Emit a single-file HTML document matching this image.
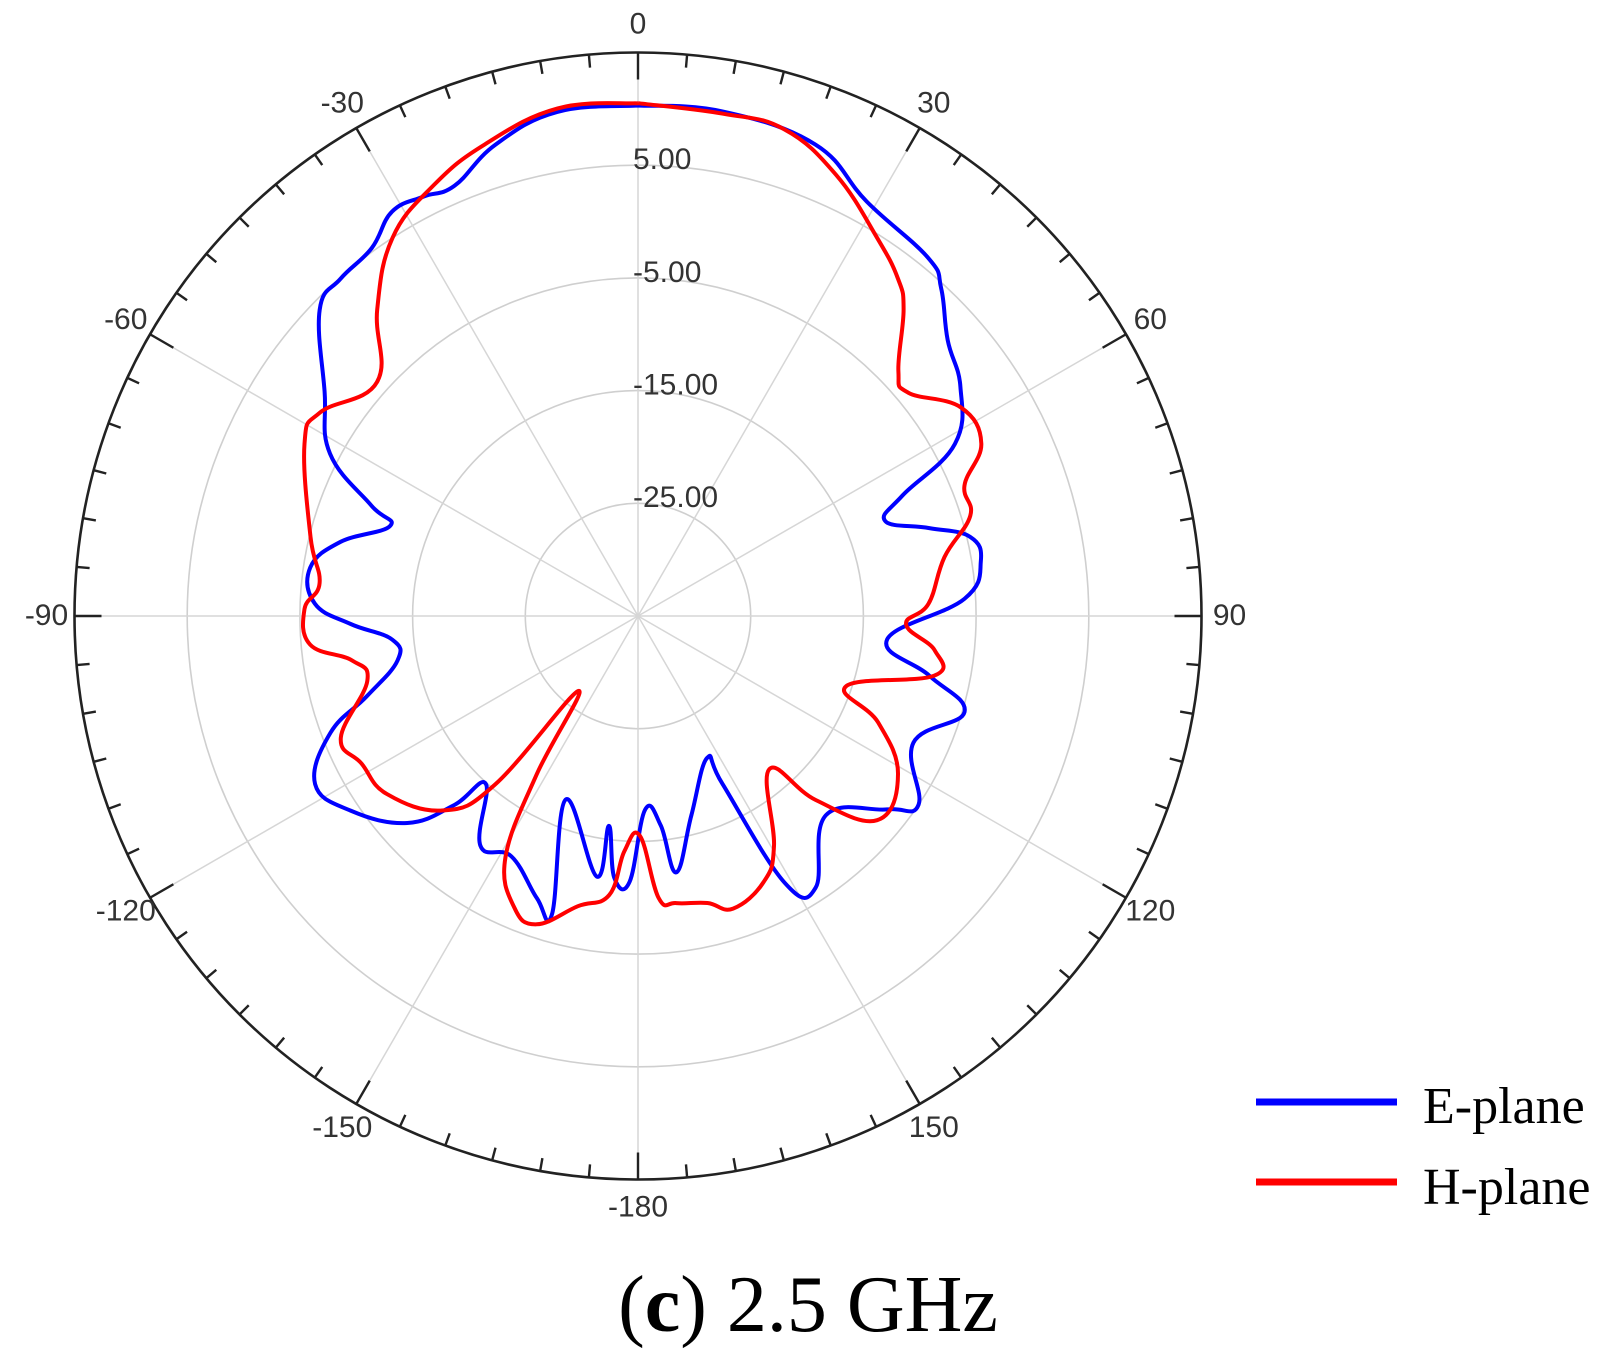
<!DOCTYPE html>
<html><head><meta charset="utf-8"><style>
html,body{margin:0;padding:0;background:#fff;}
svg{display:block;}
</style></head><body>
<svg id="chart" width="1615" height="1368" viewBox="0 0 1615 1368" xmlns="http://www.w3.org/2000/svg">
<g id="grid"></g>
<g id="series"></g>
<g id="labels"></g>
<g>
<line x1="1256" y1="1102" x2="1397" y2="1102" stroke="#0000ff" stroke-width="7"/>
<text x="1423" y="1123" font-family="Liberation Serif, serif" font-size="52" fill="#000">E-plane</text>
<line x1="1256" y1="1182" x2="1397" y2="1182" stroke="#ff0000" stroke-width="7"/>
<text x="1423" y="1204" font-family="Liberation Serif, serif" font-size="52" fill="#000">H-plane</text>
</g>
<text x="808" y="1331" text-anchor="middle" font-family="Liberation Serif, serif" font-size="80" fill="#000">(<tspan font-weight="bold">c</tspan>) 2.5 GHz</text>
</svg>
<script>
// data
const ringLevels = [-25, -15, -5, 5];
const ringLabels = ["-25.00", "-15.00", "-5.00", "5.00"];
const angleTicks = [0, 30, 60, 90, 120, 150, 180, -150, -120, -90, -60, -30];
const angleLabels = ["0", "30", "60", "90", "120", "150", "-180", "-150", "-120", "-90", "-60", "-30"];
const eAngles = [0,9.5,20.6,28.9,39,42.8,48.3,54.6,61.5,65.5,69,73.2,76.6,81,87,95.4,101.6,106.4,114.7,123.9,127.8,136.7,146.8,151.2,153.3,154,165,171.5,173.8,177.9,181.8,185.2,187.9,189,201.5,196.1,199.7,207.8,214.5,222.2,224.2,228.1,235.9,242.5,249.2,253.5,259.5,264.5,268.4,272.2,278.4,284,290,292.5,297.8,305.6,313.9,318.6,324.1,328.7,332.9,336.9,343.2,350.9,360];
const eValues = [10.3,10.4,9.7,7.0,5.9,4.6,1.8,0.1,-3.0,-9.2,-11.5,-8,-4.7,-4.2,-6,-12.8,-8.6,-4.8,-8.1,-5,-7,-10.7,-6.2,-8,-18.3,-21,-16.7,-12,-16.3,-17.8,-11.4,-11.7,-16.2,-11.6,-17.5,-7.5,-8.4,-10.9,-10.3,-14.9,-11.6,-7.5,-4.2,-2.7,-5.8,-9.9,-13.3,-13.1,-9.5,-6.3,-5.6,-7.8,-11.6,-9.4,-4.1,-0.8,4.2,4.9,5.3,7,6.8,6.5,8.7,10.3,10.3];
const hAngles = [0,9.6,16.7,24.2,32.3,37.6,40.9,46.8,50.4,57.1,63.3,68.2,73.2,79.1,87.6,91.8,96.6,101.4,108.6,113.9,121.3,130.5,136,139.4,149.4,154.7,162,166.4,172.4,175.8,179.5,183.3,185.9,191.7,198.2,203,208.8,212.6,218.5,220.3,225,234.6,241.9,247.7,256.5,261.2,265,271.2,275.9,283.6,297.3,302.6,311.9,319.6,327,334.6,342,351,360];
const hValues = [10.5,10.2,10.1,7.9,4.7,2.8,1,-3.3,-3.9,-0.9,-0.9,-3.8,-4.2,-7.3,-9.2,-11.2,-8.5,-8.2,-15.5,-11.7,-8,-7.1,-12.3,-17.1,-11.3,-8.9,-7.7,-8.8,-9.3,-9.9,-15.5,-14.1,-10.1,-8.7,-6.2,-6.9,-10.6,-18.3,-26.5,-15.4,-10.6,-7.7,-7.2,-6.5,-10.3,-9.3,-5.8,-5.4,-6.6,-5.1,-1.7,-1.5,-3.9,0.7,5,7.3,9,10.6,10.5];

const NS = "http://www.w3.org/2000/svg";
const CX = 638, CY = 616, MIN_DB = -35, MAX_DB = 15, R = 563.5;
function rScale(db){ return (db - MIN_DB) / (MAX_DB - MIN_DB) * R; }
function pt(angDeg, rad){ const a = angDeg*Math.PI/180; return [CX + rad*Math.sin(a), CY - rad*Math.cos(a)]; }
function mk(tag, attrs, parent){ const e = document.createElementNS(NS, tag); for (const k in attrs) e.setAttribute(k, attrs[k]); parent.appendChild(e); return e; }

const grid = document.getElementById('grid');
ringLevels.forEach((lv, i) => {
  const c = mk('circle', {cx:CX, cy:CY, r:rScale(lv), fill:'none', stroke:'#cfcfcf', 'stroke-width':1.6}, grid);
  
  
});
for (let a = 0; a < 360; a += 30) {
  const p = pt(a, R);
  const l = mk('line', {x1:CX, y1:CY, x2:p[0], y2:p[1], stroke:'#d6d6d6', 'stroke-width':1.5}, grid);
  
  
}
const outer = mk('circle', {cx:CX, cy:CY, r:R, fill:'none', stroke:'#222', 'stroke-width':2.6}, grid);


for (let a = 0; a < 360; a += 5) {
  const len = (a % 30 === 0) ? 27 : 13;
  const p1 = pt(a, R), p2 = pt(a, R - len);
  const t = mk('line', {x1:p1[0], y1:p1[1], x2:p2[0], y2:p2[1], stroke:'#222', 'stroke-width':2.4}, grid);
  
  
}

function smoothPath(pts){
  let d = 'M' + pts[0][0].toFixed(1) + ',' + pts[0][1].toFixed(1);
  for (let i = 0; i < pts.length - 1; i++) {
    const p0 = pts[Math.max(0, i-1)], p1 = pts[i], p2 = pts[i+1], p3 = pts[Math.min(pts.length-1, i+2)];
    const t = 0.2;
    const c1 = [p1[0] + (p2[0]-p0[0])*t, p1[1] + (p2[1]-p0[1])*t];
    const c2 = [p2[0] - (p3[0]-p1[0])*t, p2[1] - (p3[1]-p1[1])*t];
    d += 'C' + c1[0].toFixed(1) + ',' + c1[1].toFixed(1) + ' ' + c2[0].toFixed(1) + ',' + c2[1].toFixed(1) + ' ' + p2[0].toFixed(1) + ',' + p2[1].toFixed(1);
  }
  return d;
}
const series = document.getElementById('series');
function drawSeries(angs, vals, color, name){
  const pts = angs.map((a, i) => pt(a, rScale(vals[i])));
  const p = mk('path', {d:smoothPath(pts), fill:'none', stroke:color, 'stroke-width':4, 'stroke-linejoin':'round'}, series);
  
  
}
drawSeries(eAngles, eValues, '#0000ff', 'e-plane-line');
drawSeries(hAngles, hValues, '#ff0000', 'h-plane-line');

const labels = document.getElementById('labels');
ringLevels.forEach((lv, i) => {
  const y = CY - rScale(lv) - 4;
  const t = mk('text', {x:633, y:y, 'dominant-baseline':'middle', 'font-family':'Liberation Sans, sans-serif', 'font-size':30, fill:'#333'}, labels);
  t.textContent = ringLabels[i];
  
  
});
angleTicks.forEach((a, i) => {
  const p = pt(a, R + 28);
  const t = mk('text', {x:p[0], y:p[1] + 1, 'text-anchor':'middle', 'dominant-baseline':'middle', 'font-family':'Liberation Sans, sans-serif', 'font-size':30, fill:'#333'}, labels);
  t.textContent = angleLabels[i];
  
  
});
</script>
</body></html>
